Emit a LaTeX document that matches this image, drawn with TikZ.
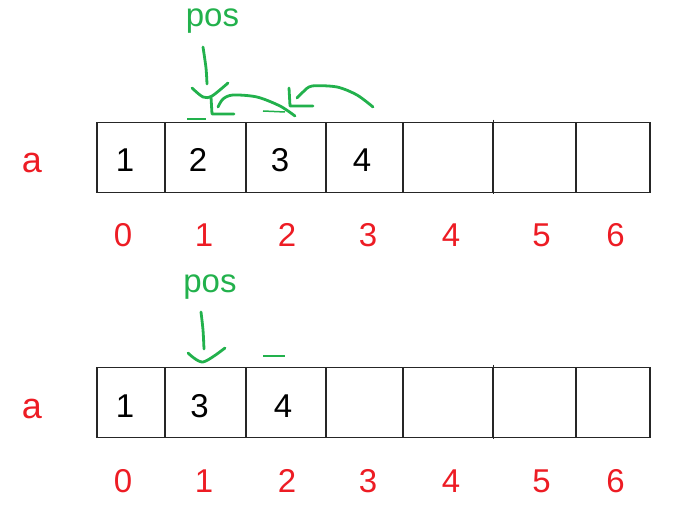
\documentclass[tikz,border=0pt]{standalone}
\usepackage{fontspec}
\setmainfont{Liberation Sans}
\usepackage{tikz}
\usepackage{xcolor}
\definecolor{paintred}{RGB}{237,28,36}
\definecolor{paintgreen}{RGB}{34,177,76}
\colorlet{boxgray}{black!85}

\begin{document}
\begin{tikzpicture}[x=1pt, y=-1pt,
        cell/.style={draw=boxgray, line width=1.6pt, minimum height=70pt, inner sep=0pt},
        val/.style={anchor=base, font=\fontsize{33}{40}\selectfont},
        idx/.style={val, text=paintred},
        arrname/.style={anchor=base, text=paintred, font=\fontsize{36}{42}\selectfont},
        stroke/.style={paintgreen, line width=2.8pt, line cap=round, line join=round}]
            \useasboundingbox (0,0) rectangle (686,516);
            % coordinates
            \coordinate (pos-top-from) at (203,47);
            \coordinate (pos-top-to) at (207,84);
            \coordinate (pos-bot-from) at (201,312);
            \coordinate (pos-bot-to) at (204,349);
            % top array
            \node[arrname] (name-top) at (32,173) {a};
            \node[cell, minimum width=68pt] (top0) at (131,157.5) {};
            \node[cell, minimum width=81pt] (top1) at (205.5,157.5) {};
            \node[cell, minimum width=80pt] (top2) at (286,157.5) {};
            \node[cell, minimum width=77pt] (top3) at (364.5,157.5) {};
            \node[cell, minimum width=89.5pt] (top4) at (447.75,157.5) {};
            \node[cell, minimum width=83.5pt] (top5) at (534.25,157.5) {};
            \node[cell, minimum width=74pt] (top6) at (613,157.5) {};
            \draw[boxgray, line width=1.2pt] (top4.north east) ++(0,-2) -- ++(0,74); % overshooting divider
            % top values
            \node[val] (topv0) at (125,172) {1};
            \node[val] (topv1) at (198,172) {2};
            \node[val] (topv2) at (280,172) {3};
            \node[val] (topv3) at (362,172) {4};
            % top indices
            \node[idx] (topi0) at (123,247) {0};
            \node[idx] (topi1) at (204,247) {1};
            \node[idx] (topi2) at (287,247) {2};
            \node[idx] (topi3) at (368,247) {3};
            \node[idx] (topi4) at (451,247) {4};
            \node[idx] (topi5) at (541.5,247) {5};
            \node[idx] (topi6) at (615.5,247) {6};
            % top pos marker
            \node[val, text=paintgreen] (pos-top) at (212.5,27) {pos};
            \draw[stroke] plot[smooth] coordinates {(pos-top-from) (206,68) (pos-top-to)};
            \draw[stroke] plot[smooth] coordinates {(192,88) (203,97) (212,96) (228,83)};
            % shift arrow 2 -> 1
            \draw[stroke] (211,97) -- (212,114) -- (234,114); % hand drawn head
            \draw[stroke] plot[smooth] coordinates {(295,116) (280,106) (257,97) (233,95) (223,99) (218,107)};
            % shift arrow 3 -> 2
            \draw[stroke] (289,88) -- (290,106) -- (313,106); % hand drawn head
            \draw[stroke] plot[smooth] coordinates {(373,107) (357,95) (337,87) (312,86) (303,92) (297,98)};
            % small marks
            \draw[paintgreen, line width=1.5pt] (187,119) -- (206,119);
            \draw[paintgreen, line width=1.5pt] (263,111) -- (285,112);
            % bottom array
            \node[arrname] (name-bot) at (32,418) {a};
            \node[cell, minimum width=68pt] (bot0) at (131,402.5) {};
            \node[cell, minimum width=81pt] (bot1) at (205.5,402.5) {};
            \node[cell, minimum width=80pt] (bot2) at (286,402.5) {};
            \node[cell, minimum width=77pt] (bot3) at (364.5,402.5) {};
            \node[cell, minimum width=89.5pt] (bot4) at (447.75,402.5) {};
            \node[cell, minimum width=83.5pt] (bot5) at (534.25,402.5) {};
            \node[cell, minimum width=74pt] (bot6) at (613,402.5) {};
            \draw[boxgray, line width=1.2pt] (bot4.north east) ++(0,-2) -- ++(0,74); % overshooting divider
            % bottom values
            \node[val] (botv0) at (125,417) {1};
            \node[val] (botv1) at (199.5,417) {3};
            \node[val] (botv2) at (283,417) {4};
            % bottom indices
            \node[idx] (boti0) at (123,492) {0};
            \node[idx] (boti1) at (204,492) {1};
            \node[idx] (boti2) at (287,492) {2};
            \node[idx] (boti3) at (368,492) {3};
            \node[idx] (boti4) at (451,492) {4};
            \node[idx] (boti5) at (541.5,492) {5};
            \node[idx] (boti6) at (615.5,492) {6};
            % bottom pos marker
            \node[val, text=paintgreen] (pos-bot) at (210,292) {pos};
            \draw[stroke] plot[smooth] coordinates {(pos-bot-from) (203,330) (pos-bot-to)};
            \draw[stroke] plot[smooth] coordinates {(188,353) (203,362) (225,348)};
            % small mark
            \draw[paintgreen, line width=1.5pt] (263,356) -- (285,356);
        \end{tikzpicture}
\end{document}
